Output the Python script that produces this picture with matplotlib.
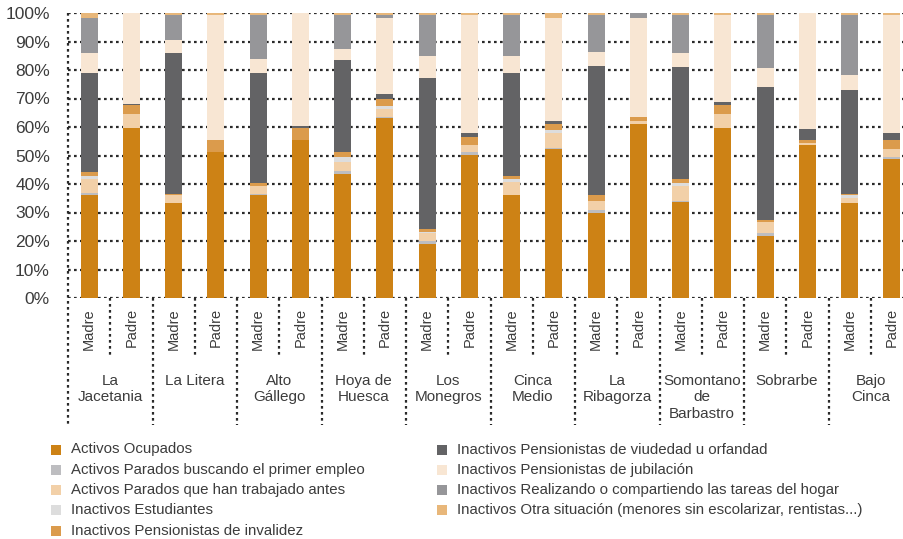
import matplotlib
matplotlib.use("Agg")
import matplotlib.pyplot as plt
from matplotlib.patches import Rectangle
import numpy as np

plt.rcParams['font.family'] = ['Liberation Sans', 'DejaVu Sans']

comarcas = ["La\nJacetania", "La Litera", "Alto\nGállego", "Hoya de\nHuesca", "Los\nMonegros",
            "Cinca\nMedio", "La\nRibagorza", "Somontano\nde\nBarbastro", "Sobrarbe", "Bajo\nCinca"]
padres = ["Madre", "Padre"]

categorias = ["Activos Ocupados",
              "Activos Parados buscando el primer empleo",
              "Activos Parados que han trabajado antes",
              "Inactivos Estudiantes",
              "Inactivos Pensionistas de invalidez",
              "Inactivos Pensionistas de viudedad u orfandad",
              "Inactivos Pensionistas de jubilación",
              "Inactivos Realizando o compartiendo las tareas del hogar",
              "Inactivos Otra situación (menores sin escolarizar, rentistas...)"]
colores = ["#cd8215", "#bdbdc0", "#f2d0a8", "#dddddd", "#db9b4c",
           "#636365", "#f8e6d3", "#969699", "#e8b77a"]

# one list per category, 20 bars: Madre/Padre for each comarca
ocupados =    [36.1, 59.6, 33.3, 51.2, 36.1, 55.4, 43.4, 63.1, 18.9, 50.1, 36.1, 52.2, 29.7, 61.0, 33.6, 59.6, 21.7, 53.6, 33.3, 48.7]
primer_emp =  [0.7, 0.0, 0.2, 0.0, 0.4, 0.0, 1.1, 0.4, 1.0, 1.1, 0.0, 0.4, 1.1, 0.0, 0.4, 0.0, 1.0, 0.0, 0.0, 0.7]
trab_antes =  [4.9, 4.9, 2.6, 0.0, 2.7, 0.0, 3.2, 2.8, 2.8, 2.4, 4.5, 5.2, 3.2, 1.1, 5.2, 4.9, 3.9, 0.7, 1.7, 2.8]
estudiantes = [1.0, 0.0, 0.0, 0.0, 0.0, 0.0, 1.7, 1.0, 0.4, 0.0, 1.1, 1.1, 0.0, 0.0, 1.1, 0.0, 0.0, 0.0, 1.1, 0.0]
invalidez =   [1.4, 3.2, 0.4, 4.2, 1.1, 4.2, 1.8, 2.5, 1.0, 2.8, 1.0, 2.1, 2.1, 1.4, 1.4, 3.2, 0.7, 1.1, 0.3, 3.2]
viudedad =    [34.8, 0.2, 49.4, 0.0, 38.6, 0.7, 32.3, 1.7, 53.1, 1.4, 36.2, 1.1, 45.3, 0.0, 39.3, 1.0, 46.7, 3.9, 36.6, 2.4]
jubilacion =  [7.0, 32.1, 4.6, 43.9, 4.9, 39.7, 3.9, 26.7, 7.7, 41.5, 6.0, 36.1, 4.9, 34.7, 4.9, 30.6, 6.7, 40.7, 5.2, 41.5]
hogar =       [12.3, 0.0, 8.8, 0.0, 15.5, 0.0, 11.9, 1.1, 14.4, 0.0, 14.4, 0.0, 13.0, 1.8, 13.4, 0.0, 18.6, 0.0, 21.1, 0.0]
otra =        [1.8, 0.0, 0.7, 0.7, 0.7, 0.0, 0.7, 0.7, 0.7, 0.7, 0.7, 1.8, 0.7, 0.0, 0.7, 0.7, 0.7, 0.0, 0.7, 0.7]
series = [ocupados, primer_emp, trab_antes, estudiantes, invalidez, viudedad, jubilacion, hogar, otra]

fig = plt.figure(figsize=(9.04, 5.39), dpi=100)
ax = fig.add_axes([68/904, 241/539, 845/904, 285/539])

x = np.arange(len(ocupados))
bottom = np.zeros(len(x))
for vals, col in zip(series, colores):
    ax.bar(x, vals, bottom=bottom, width=0.40, color=col, linewidth=0, zorder=2)
    bottom += np.array(vals)

ax.set_xlim(-0.5, 19.5)
ax.set_ylim(0, 100)
ax.set_yticks(np.arange(0, 101, 10))
ax.set_yticklabels([f"{v}%" for v in range(0, 101, 10)], fontsize=12.5, color="#3c3c3c")
ax.tick_params(axis='y', length=0, pad=13)
ax.set_xticks([])
for s in ax.spines.values():
    s.set_visible(False)

dots = dict(color="#2a2a2a", linewidth=1.6, linestyle=(0, (1.2, 1.5)), dash_capstyle='butt')
for v in range(0, 101, 10):
    ax.axhline(v, zorder=1, **dots)

# label area below the axis
tr = ax.get_xaxis_transform()
ax.plot([-0.5, -0.5], [1.0, -0.445], transform=tr, clip_on=False, zorder=1, **dots)
for i in range(len(x)):
    ax.text(x[i], -0.035, padres[i % 2], rotation=90, ha='center', va='top',
            fontsize=10.5, color="#3c3c3c", transform=tr)
    ybot = -0.21 if i % 2 == 0 else -0.445
    ax.plot([i + 0.5, i + 0.5], [0, ybot], transform=tr, clip_on=False, **dots)
for g, nombre in enumerate(comarcas):
    ax.text(2 * g + 0.5, -0.265, nombre, ha='center', va='top', fontsize=11,
            color="#3c3c3c", linespacing=1.25, transform=tr)

# legend
for k, (cat, col) in enumerate(zip(categorias, colores)):
    c, r = divmod(k, 5)
    xs = [51, 437][c]
    yc = 449.5 + r * 20.3
    fig.patches.append(Rectangle((xs/904, 1 - (yc + 5)/539), 10/904, 10/539,
                                 transform=fig.transFigure, color=col, linewidth=0))
    fig.text((xs + 20)/904, 1 - yc/539, cat, ha='left', va='center', fontsize=10.8, color="#3c3c3c")

fig.savefig("out.png", dpi=100)
